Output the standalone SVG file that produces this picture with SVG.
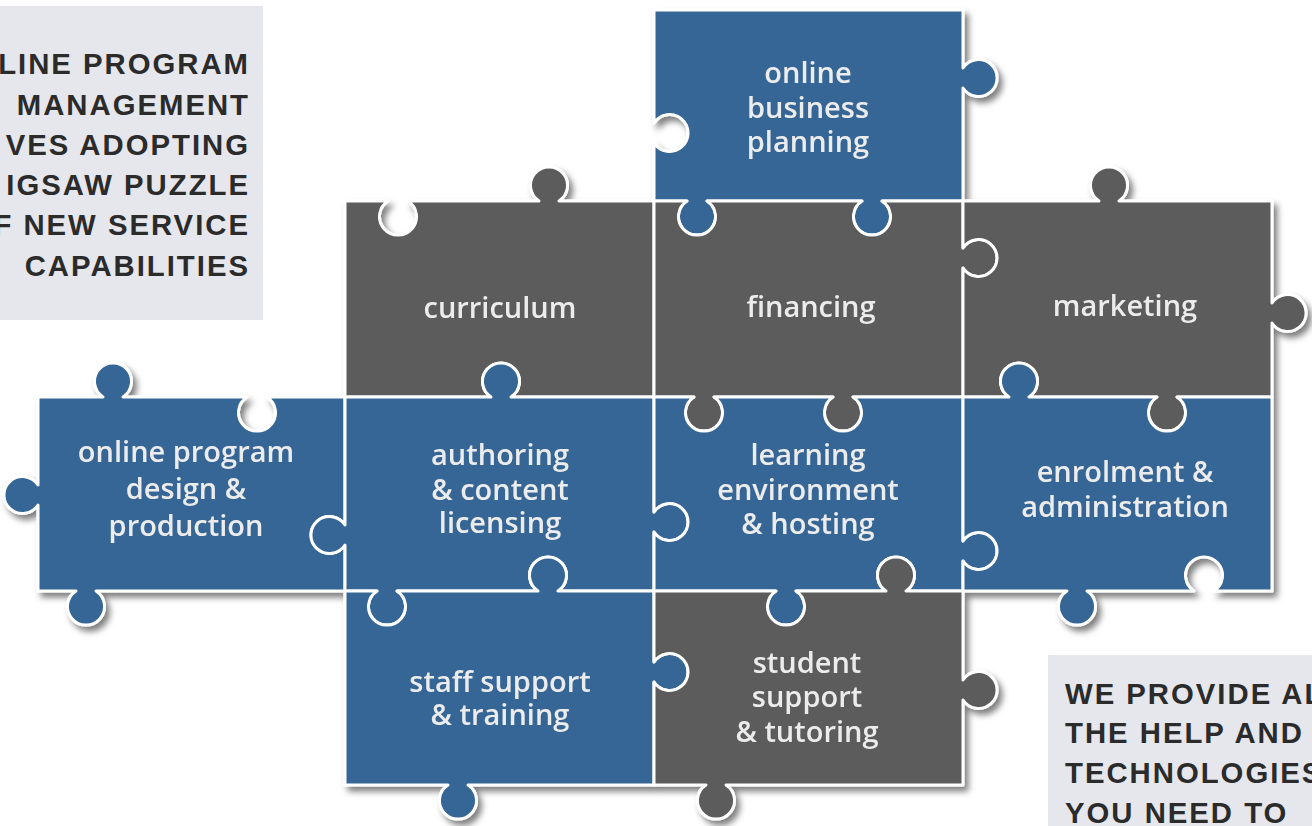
<svg xmlns="http://www.w3.org/2000/svg" width="1312" height="826" viewBox="0 0 1312 826">
  <defs>
    <filter id="shadow" x="-5%" y="-5%" width="112%" height="112%">
      <feDropShadow dx="4" dy="5" stdDeviation="3" flood-color="#000" flood-opacity="0.5"/>
    </filter>
    <style>
      .blue { fill: #366696; stroke: #ffffff; stroke-width: 3; stroke-linejoin: round; }
      .grey { fill: #5b5b5b; stroke: #ffffff; stroke-width: 3; stroke-linejoin: round; }
      .label { font-family: "Open Sans", "Liberation Sans", sans-serif; font-weight: 600; font-size: 29px; fill: #ececec; text-anchor: middle; }
      .panel { fill: #e6e7ec; }
      .heading { font-family: "Liberation Sans", Arial, sans-serif; font-weight: 700; font-size: 29.3px; letter-spacing: 2px; fill: #2b2b2b; }
      .end { text-anchor: end; }
    </style>
  </defs>

  <rect width="1312" height="826" fill="#ffffff"/>

  <!-- side panels -->
  <g id="intro-panel">
    <rect class="panel" x="0" y="6" width="263" height="314"/>
    <text class="heading end" x="250" y="74">LINE PROGRAM</text>
    <text class="heading end" x="250" y="115">MANAGEMENT</text>
    <text class="heading end" x="250" y="155">VES ADOPTING</text>
    <text class="heading end" x="250" y="195">IGSAW PUZZLE</text>
    <text class="heading end" x="250" y="235">F NEW SERVICE</text>
    <text class="heading end" x="250" y="276">CAPABILITIES</text>
  </g>
  <g id="offer-panel">
    <rect class="panel" x="1048" y="655" width="264" height="171"/>
    <text class="heading" x="1065" y="704">WE PROVIDE AL</text>
    <text class="heading" x="1065" y="743">THE HELP AND</text>
    <text class="heading" x="1065" y="783">TECHNOLOGIES</text>
    <text class="heading" x="1065" y="823">YOU NEED TO</text>
  </g>

  <!-- jigsaw pieces: knobs are arcs r=18.5 with a 20px neck -->
  <g id="puzzle" filter="url(#shadow)">
    <g id="node-business-planning">
      <path class="blue" d="M654 10 H963 V68 A18.5 18.5 0 1 1 963 88 V201 H882 A18.5 18.5 0 1 1 862 201 H707 A18.5 18.5 0 1 1 687 201 H654 V143 A18.5 18.5 0 1 0 654 123 Z"/>
      <text class="label" x="808" y="83">online</text>
      <text class="label" x="808" y="118">business</text>
      <text class="label" x="808" y="152">planning</text>
    </g>
    <g id="node-curriculum">
      <path class="grey" d="M345 201 H388 A18.5 18.5 0 1 0 408 201 H539 A18.5 18.5 0 1 1 559 201 H654 V397 H511 A18.5 18.5 0 1 0 491 397 H345 Z"/>
      <text class="label" x="500" y="318">curriculum</text>
    </g>
    <g id="node-financing">
      <path class="grey" d="M654 201 H687 A18.5 18.5 0 1 0 707 201 H862 A18.5 18.5 0 1 0 882 201 H963 V248 A18.5 18.5 0 1 1 963 268 V397 H853 A18.5 18.5 0 1 1 833 397 H714 A18.5 18.5 0 1 1 694 397 H654 Z"/>
      <text class="label" x="811" y="317">financing</text>
    </g>
    <g id="node-marketing">
      <path class="grey" d="M963 201 H1099 A18.5 18.5 0 1 1 1119 201 H1272 V303 A18.5 18.5 0 1 1 1272 323 V397 H1177 A18.5 18.5 0 1 1 1157 397 H1029 A18.5 18.5 0 1 0 1009 397 H963 V268 A18.5 18.5 0 1 0 963 248 Z"/>
      <text class="label" x="1125" y="316">marketing</text>
    </g>
    <g id="node-program-design">
      <path class="blue" d="M38 397 H103 A18.5 18.5 0 1 1 123 397 H247 A18.5 18.5 0 1 0 267 397 H345 V525 A18.5 18.5 0 1 0 345 545 V591 H96 A18.5 18.5 0 1 1 76 591 H38 V505 A18.5 18.5 0 1 1 38 485 Z"/>
      <text class="label" x="186" y="462">online program</text>
      <text class="label" x="186" y="499">design &amp;</text>
      <text class="label" x="186" y="536">production</text>
    </g>
    <g id="node-authoring">
      <path class="blue" d="M345 397 H491 A18.5 18.5 0 1 1 511 397 H654 V512 A18.5 18.5 0 1 1 654 532 V591 H558 A18.5 18.5 0 1 0 538 591 H397 A18.5 18.5 0 1 1 377 591 H345 V545 A18.5 18.5 0 1 1 345 525 Z"/>
      <text class="label" x="500" y="465">authoring</text>
      <text class="label" x="500" y="500">&amp; content</text>
      <text class="label" x="500" y="533">licensing</text>
    </g>
    <g id="node-learning-environment">
      <path class="blue" d="M654 397 H694 A18.5 18.5 0 1 0 714 397 H833 A18.5 18.5 0 1 0 853 397 H963 V541 A18.5 18.5 0 1 1 963 561 V591 H906 A18.5 18.5 0 1 0 886 591 H796 A18.5 18.5 0 1 1 776 591 H654 V532 A18.5 18.5 0 1 0 654 512 Z"/>
      <text class="label" x="808" y="465">learning</text>
      <text class="label" x="808" y="500">environment</text>
      <text class="label" x="808" y="534">&amp; hosting</text>
    </g>
    <g id="node-enrolment">
      <path class="blue" d="M963 397 H1009 A18.5 18.5 0 1 1 1029 397 H1157 A18.5 18.5 0 1 0 1177 397 H1272 V591 H1214 A18.5 18.5 0 1 0 1194 591 H1087 A18.5 18.5 0 1 1 1067 591 H963 V561 A18.5 18.5 0 1 0 963 541 Z"/>
      <text class="label" x="1125" y="482">enrolment &amp;</text>
      <text class="label" x="1125" y="517">administration</text>
    </g>
    <g id="node-staff-support">
      <path class="blue" d="M345 591 H377 A18.5 18.5 0 1 0 397 591 H538 A18.5 18.5 0 1 1 558 591 H654 V662 A18.5 18.5 0 1 1 654 682 V785 H468 A18.5 18.5 0 1 1 448 785 H345 Z"/>
      <text class="label" x="500" y="692">staff support</text>
      <text class="label" x="500" y="725">&amp; training</text>
    </g>
    <g id="node-student-support">
      <path class="grey" d="M654 591 H776 A18.5 18.5 0 1 0 796 591 H886 A18.5 18.5 0 1 1 906 591 H963 V680 A18.5 18.5 0 1 1 963 700 V785 H726 A18.5 18.5 0 1 1 706 785 H654 V682 A18.5 18.5 0 1 0 654 662 Z"/>
      <text class="label" x="807" y="673">student</text>
      <text class="label" x="807" y="707">support</text>
      <text class="label" x="807" y="742">&amp; tutoring</text>
    </g>
  </g>

  <g id="connectors"/>
</svg>
